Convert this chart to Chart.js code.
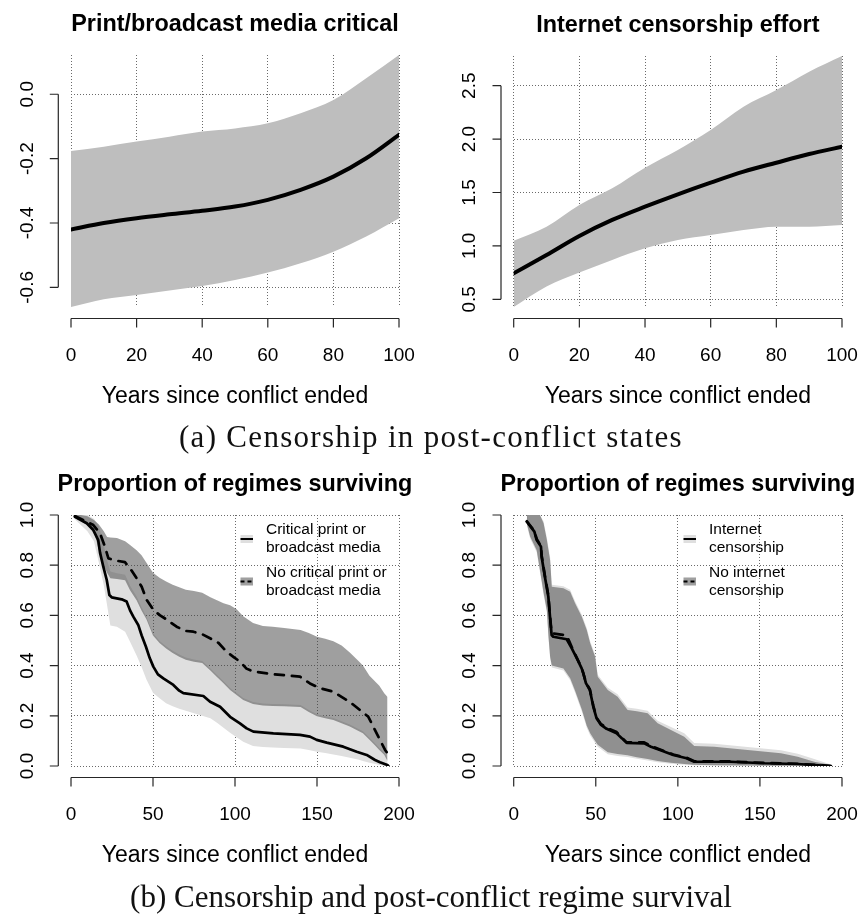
<!DOCTYPE html>
<html>
<head>
<meta charset="utf-8">
<script src="https://cdn.jsdelivr.net/npm/chart.js@4.4.1/dist/chart.umd.min.js"></script>
<style>
	body { margin: 0; background: #fff; }
	#page { position: relative; width: 862px; height: 916px; overflow: hidden; }
	canvas { position: absolute; }
	.caption { position: absolute; left: 0; width: 862px; text-align: center; font-family: "Liberation Serif", "DejaVu Serif", serif; font-size: 31px; line-height: 36px; color: #111; }
</style>
</head>
<body>
<div id="page">
	<canvas id="media" width="431" height="420" style="left:0;top:0"></canvas>
	<canvas id="internet" width="431" height="420" style="left:431px;top:0"></canvas>
	<div class="caption" style="top:419px;letter-spacing:1.3px">(a) Censorship in post-conflict states</div>
	<canvas id="survMedia" width="431" height="420" style="left:0;top:460px"></canvas>
	<canvas id="survNet" width="431" height="420" style="left:431px;top:460px"></canvas>
	<div class="caption" style="top:879px">(b) Censorship and post-conflict regime survival</div>
</div>
<script>
// VARIABLES ================================================

// (a) predicted effect over years since conflict ended
const effectYears = [0, 10, 20, 30, 40, 50, 60, 70, 80, 90, 100];
const mediaEffect = [-0.420, -0.400, -0.385, -0.373, -0.362, -0.349, -0.328, -0.297, -0.256, -0.199, -0.126];
const mediaUpper = [-0.176, -0.163, -0.147, -0.132, -0.116, -0.106, -0.090, -0.059, -0.018, 0.050, 0.122];
const mediaLower = [-0.661, -0.637, -0.624, -0.610, -0.596, -0.577, -0.554, -0.525, -0.489, -0.442, -0.385];
const internetEffect = [0.743, 0.915, 1.093, 1.243, 1.367, 1.483, 1.592, 1.695, 1.779, 1.860, 1.929];
const internetUpper = [1.049, 1.180, 1.383, 1.539, 1.732, 1.898, 2.085, 2.303, 2.459, 2.631, 2.778];
const internetLower = [0.428, 0.619, 0.750, 0.868, 0.977, 1.055, 1.102, 1.149, 1.180, 1.180, 1.196];

const effectXTicks = [0, 20, 40, 60, 80, 100];
const mediaYTicks = [-0.6, -0.4, -0.2, 0.0];
const internetYTicks = [0.5, 1.0, 1.5, 2.0, 2.5];

// (b) survival, critical print/broadcast media
const mediaBandYears = [2, 6, 10, 14, 17, 20, 22, 24, 28, 33, 36, 40, 43, 46, 50, 54, 58, 62, 66, 70, 75, 80, 85, 89, 93, 97, 101, 105, 111, 117, 123, 130, 140, 145, 150, 155, 160, 165, 170, 175, 178, 182, 185, 188, 191, 193];
const critUpper = [1.0, 1.0, 1.0, 0.985, 0.955, 0.88, 0.82, 0.775, 0.768, 0.762, 0.718, 0.675, 0.632, 0.595, 0.53, 0.498, 0.477, 0.459, 0.444, 0.432, 0.424, 0.418, 0.388, 0.363, 0.338, 0.311, 0.291, 0.271, 0.255, 0.249, 0.247, 0.246, 0.243, 0.223, 0.206, 0.198, 0.191, 0.178, 0.165, 0.148, 0.138, 0.113, 0.093, 0.072, 0.053, 0.03];
const critLower = [0.985, 0.96, 0.935, 0.895, 0.81, 0.72, 0.64, 0.56, 0.555, 0.535, 0.495, 0.44, 0.395, 0.345, 0.292, 0.27, 0.25, 0.238, 0.228, 0.22, 0.21, 0.2, 0.19, 0.172, 0.152, 0.132, 0.115, 0.097, 0.08, 0.076, 0.074, 0.072, 0.07, 0.064, 0.057, 0.052, 0.046, 0.04, 0.033, 0.026, 0.02, 0.013, 0.009, 0.004, 0.001, 0];
const noCritUpper = [1.0, 1.0, 0.995, 0.98, 0.962, 0.935, 0.912, 0.91, 0.908, 0.895, 0.88, 0.86, 0.84, 0.81, 0.77, 0.75, 0.735, 0.722, 0.712, 0.702, 0.697, 0.69, 0.672, 0.66, 0.648, 0.64, 0.625, 0.597, 0.57, 0.558, 0.555, 0.55, 0.542, 0.53, 0.515, 0.507, 0.497, 0.48, 0.452, 0.42, 0.40, 0.36, 0.34, 0.32, 0.29, 0.275];
const noCritLower = [0.99, 0.975, 0.96, 0.935, 0.86, 0.80, 0.77, 0.748, 0.745, 0.74, 0.70, 0.66, 0.62, 0.585, 0.52, 0.49, 0.468, 0.45, 0.435, 0.423, 0.415, 0.41, 0.38, 0.355, 0.33, 0.303, 0.283, 0.263, 0.247, 0.241, 0.239, 0.238, 0.235, 0.215, 0.198, 0.19, 0.183, 0.17, 0.157, 0.14, 0.13, 0.105, 0.085, 0.064, 0.045, 0.02];

const critYears = [2.4, 9.6, 13.6, 16.6, 17.7, 19.7, 21.8, 23.4, 24.8, 30.9, 33.9, 36, 38, 41, 43.1, 45.7, 48, 50.2, 53, 56.3, 62.4, 66, 68.5, 80.7, 84.8, 90.9, 97, 103, 107.1, 111.2, 123.4, 139.6, 145.7, 149.8, 155.9, 166, 174.2, 180.3, 185.4, 188.4, 192.9, 193.5];
const critSurv = [0.993, 0.967, 0.94, 0.90, 0.85, 0.794, 0.741, 0.681, 0.672, 0.664, 0.655, 0.62, 0.595, 0.562, 0.52, 0.475, 0.43, 0.396, 0.365, 0.349, 0.323, 0.30, 0.29, 0.279, 0.256, 0.236, 0.196, 0.17, 0.15, 0.137, 0.13, 0.124, 0.117, 0.104, 0.093, 0.077, 0.057, 0.044, 0.024, 0.015, 0.004, 0];
const noCritYears = [2.4, 13.6, 17.7, 20.7, 22.8, 27.9, 32.9, 36, 40, 43.1, 46.2, 50.2, 54.3, 58, 64.4, 70, 74.6, 80, 86.8, 90, 94.9, 99, 103, 107, 111.2, 123.4, 139.6, 145.7, 151.8, 160, 168, 172, 176.2, 181.3, 184.3, 188.4, 191.5, 192.5];
const noCritSurv = [0.996, 0.96, 0.927, 0.874, 0.827, 0.818, 0.812, 0.788, 0.748, 0.714, 0.661, 0.622, 0.60, 0.585, 0.555, 0.538, 0.535, 0.525, 0.502, 0.49, 0.455, 0.435, 0.416, 0.388, 0.376, 0.366, 0.356, 0.329, 0.31, 0.296, 0.263, 0.245, 0.223, 0.196, 0.157, 0.104, 0.064, 0.055];

// (b) survival, internet censorship
const netBandYears = [8, 10, 14, 16, 18.2, 20.2, 21.2, 22.2, 23.2, 30.3, 34.4, 37.4, 41.5, 44.5, 46.6, 49.6, 51.2, 57.3, 63.3, 69.4, 75, 81.6, 87.7, 95.8, 103.9, 110, 122.2, 142.5, 162.8, 173, 183.1, 193.2];
const censUpper = [1.0, 1.0, 1.0, 1.0, 0.975, 0.91, 0.87, 0.83, 0.722, 0.716, 0.702, 0.656, 0.603, 0.55, 0.497, 0.443, 0.364, 0.312, 0.286, 0.233, 0.228, 0.22, 0.18, 0.155, 0.13, 0.092, 0.089, 0.076, 0.063, 0.049, 0.028, 0.006];
const censLower = [0.958, 0.906, 0.852, 0.772, 0.682, 0.612, 0.507, 0.427, 0.392, 0.38, 0.342, 0.292, 0.217, 0.152, 0.122, 0.092, 0.077, 0.047, 0.04, 0.036, 0.029, 0.022, 0.015, 0.009, 0.005, 0.003, 0.002, 0.001, 0, 0, 0, 0];
const noCensUpper = [1.0, 1.0, 1.0, 1.0, 0.967, 0.90, 0.86, 0.82, 0.714, 0.708, 0.694, 0.648, 0.595, 0.542, 0.489, 0.435, 0.356, 0.303, 0.276, 0.223, 0.218, 0.21, 0.17, 0.143, 0.117, 0.08, 0.077, 0.064, 0.051, 0.037, 0.017, 0.004];
const noCensLower = [0.965, 0.914, 0.86, 0.78, 0.69, 0.62, 0.515, 0.435, 0.40, 0.388, 0.35, 0.30, 0.225, 0.16, 0.13, 0.10, 0.085, 0.055, 0.048, 0.043, 0.035, 0.028, 0.02, 0.013, 0.008, 0.005, 0.003, 0.002, 0.001, 0.001, 0, 0];

const censYears = [8, 12.6, 14, 16.6, 17, 19, 21.1, 22.1, 23.1, 24.1, 32.3, 35.3, 38.4, 41.4, 42.4, 44, 46.4, 48.5, 50.5, 53, 56.6, 62.7, 66, 68.8, 79.5, 83.6, 89.1, 97.2, 105.3, 110, 132.3, 152.6, 173, 193.2];
const censSurv = [0.973, 0.934, 0.90, 0.874, 0.834, 0.754, 0.675, 0.595, 0.522, 0.515, 0.505, 0.47, 0.43, 0.389, 0.369, 0.33, 0.303, 0.236, 0.19, 0.165, 0.148, 0.13, 0.11, 0.092, 0.09, 0.077, 0.064, 0.044, 0.031, 0.017, 0.017, 0.011, 0.008, 0];
const noCensSurv = [0.975, 0.936, 0.905, 0.876, 0.84, 0.758, 0.68, 0.60, 0.53, 0.528, 0.52, 0.475, 0.432, 0.39, 0.37, 0.332, 0.305, 0.24, 0.192, 0.168, 0.152, 0.135, 0.112, 0.094, 0.094, 0.08, 0.066, 0.046, 0.033, 0.019, 0.018, 0.012, 0.009, 0];

const survXTicks = [0, 50, 100, 150, 200];
const survYTicks = [0.0, 0.2, 0.4, 0.6, 0.8, 1.0];

const mediaLegend = [["Critical print or", "broadcast media"], ["No critical print or", "broadcast media"]];
const netLegend = [["Internet", "censorship"], ["No internet", "censorship"]];

const SANS = '"Liberation Sans", Arial, Helvetica, sans-serif';
const BAND = "#bebebe";
const LIGHT = "#dfdfdf";
const DARK = "rgba(70, 70, 70, 0.52)";

// FUNCTIONS ================================================

const pts = function (xs, ys) {
	return xs.map((x, i) => ({ x: x, y: ys[i] }));
};

// R style axes, titles and legend drawn from the chart scales
const rStyle = {
	id: "rStyle",
	afterDraw: function (chart, args, opts) {
		const ctx = chart.ctx;
		const area = chart.chartArea;
		const xs = chart.scales.x;
		const ys = chart.scales.y;
		const midX = (area.left + area.right) / 2;
		ctx.save();
		ctx.strokeStyle = "#262626";
		ctx.lineWidth = 1.2;
		ctx.fillStyle = "#000";

		// x axis
		const axY = area.bottom + 11.5;
		const xa = xs.getPixelForValue(opts.xTicks[0]);
		const xb = xs.getPixelForValue(opts.xTicks[opts.xTicks.length - 1]);
		ctx.beginPath();
		ctx.moveTo(xa, axY);
		ctx.lineTo(xb, axY);
		opts.xTicks.forEach((v) => {
			const px = xs.getPixelForValue(v);
			ctx.moveTo(px, axY);
			ctx.lineTo(px, axY + 9);
		});
		ctx.stroke();
		ctx.font = "19px " + SANS;
		ctx.textAlign = "center";
		ctx.textBaseline = "alphabetic";
		opts.xTicks.forEach((v) => {
			ctx.fillText(String(v), xs.getPixelForValue(v), axY + 42);
		});

		// y axis
		const axX = area.left - 12.7;
		const ya = ys.getPixelForValue(opts.yTicks[0]);
		const yb = ys.getPixelForValue(opts.yTicks[opts.yTicks.length - 1]);
		ctx.beginPath();
		ctx.moveTo(axX, ya);
		ctx.lineTo(axX, yb);
		opts.yTicks.forEach((v) => {
			const py = ys.getPixelForValue(v);
			ctx.moveTo(axX, py);
			ctx.lineTo(axX - 8.5, py);
		});
		ctx.stroke();
		opts.yTicks.forEach((v) => {
			ctx.save();
			ctx.translate(axX - 25.8, ys.getPixelForValue(v));
			ctx.rotate(-Math.PI / 2);
			ctx.fillText(v.toFixed(1), 0, 0);
			ctx.restore();
		});

		// titles
		ctx.font = "23px " + SANS;
		ctx.fillText(opts.xTitle, midX, area.bottom + 96);
		ctx.font = "bold 23.4px " + SANS;
		ctx.fillText(opts.title, midX, area.top - 24);

		// legend
		if (opts.legend) {
			ctx.font = "15.5px " + SANS;
			ctx.textAlign = "left";
			ctx.textBaseline = "middle";
			opts.legend.forEach((item, i) => {
				const cy = area.top + 24 + i * 42.5;
				const sx = area.right - 158.5;
				ctx.fillStyle = item.fill;
				ctx.fillRect(sx, cy - 4, 12.5, 8);
				ctx.strokeStyle = "#000";
				ctx.lineWidth = 2;
				ctx.setLineDash(item.dash);
				ctx.beginPath();
				ctx.moveTo(sx, cy);
				ctx.lineTo(sx + 12.5, cy);
				ctx.stroke();
				ctx.setLineDash([]);
				ctx.fillStyle = "#000";
				ctx.fillText(item.lines[0], area.right - 133, cy - 9.2);
				ctx.fillText(item.lines[1], area.right - 133, cy + 9.2);
			});
		}
		ctx.restore();
	},
};

const scaleOpts = function (min, max, ticks) {
	return {
		type: "linear",
		min: min,
		max: max,
		z: 1,
		grid: { color: "#6a6a6a", lineWidth: 1, drawTicks: false },
		border: { display: false, dash: [1, 2] },
		ticks: { display: false },
		afterBuildTicks: (scale) => {
			scale.ticks = ticks.map((v) => ({ value: v }));
		},
	};
};

const bandSets = function (xs, upper, lower, color, order) {
	return [
		{ data: pts(xs, upper), borderWidth: 0, pointRadius: 0, backgroundColor: color, fill: "+1", order: order },
		{ data: pts(xs, lower), borderWidth: 0, pointRadius: 0, fill: false, order: order },
	];
};

const lineSet = function (xs, ys, width, dash) {
	return { data: pts(xs, ys), borderColor: "#000", borderWidth: width, borderDash: dash, borderCapStyle: "round", borderJoinStyle: "round", pointRadius: 0, fill: false, order: 0 };
};

const makeChart = function (id, datasets, cfg) {
	return new Chart(document.getElementById(id), {
		type: "line",
		data: { datasets: datasets },
		options: {
			responsive: false,
			animation: false,
			devicePixelRatio: 1,
			layout: { padding: cfg.padding },
			elements: { line: { tension: cfg.smooth ? 0.4 : 0, cubicInterpolationMode: cfg.smooth ? "monotone" : "default" } },
			scales: { x: scaleOpts(cfg.xMin, cfg.xMax, cfg.xTicks), y: scaleOpts(cfg.yMin, cfg.yMax, cfg.yTicks) },
			plugins: {
				legend: { display: false },
				tooltip: { enabled: false },
				rStyle: { title: cfg.title, xTitle: "Years since conflict ended", xTicks: cfg.xTicks, yTicks: cfg.yTicks, legend: cfg.legend },
			},
		},
		plugins: [rStyle],
	});
};

// CHARTS ===================================================

makeChart("media", [...bandSets(effectYears, mediaUpper, mediaLower, BAND, 2), lineSet(effectYears, mediaEffect, 4, [])], {
	padding: { left: 71, right: 32, top: 55, bottom: 113 },
	smooth: true,
	xMin: 0, xMax: 100, yMin: -0.661, yMax: 0.122,
	xTicks: effectXTicks, yTicks: mediaYTicks,
	title: "Print/broadcast media critical",
});

makeChart("internet", [...bandSets(effectYears, internetUpper, internetLower, BAND, 2), lineSet(effectYears, internetEffect, 4, [])], {
	padding: { left: 82.7, right: 20, top: 56, bottom: 113 },
	smooth: true,
	xMin: 0, xMax: 100, yMin: 0.428, yMax: 2.778,
	xTicks: effectXTicks, yTicks: internetYTicks,
	title: "Internet censorship effort",
});

makeChart("survMedia", [
	...bandSets(mediaBandYears, critUpper, critLower, LIGHT, 3),
	...bandSets(mediaBandYears, noCritUpper, noCritLower, DARK, 2),
	lineSet(critYears, critSurv, 2.7, []),
	lineSet(noCritYears, noCritSurv, 2.7, [9, 8]),
], {
	padding: { left: 71, right: 32, top: 55, bottom: 114 },
	smooth: false,
	xMin: 0, xMax: 200, yMin: 0, yMax: 1,
	xTicks: survXTicks, yTicks: survYTicks,
	title: "Proportion of regimes surviving",
	legend: [
		{ lines: mediaLegend[0], fill: LIGHT, dash: [] },
		{ lines: mediaLegend[1], fill: DARK, dash: [4, 3] },
	],
});

makeChart("survNet", [
	...bandSets(netBandYears, censUpper, censLower, LIGHT, 3),
	...bandSets(netBandYears, noCensUpper, noCensLower, DARK, 2),
	lineSet(censYears, censSurv, 2.7, []),
	lineSet(censYears, noCensSurv, 2.7, [9, 8]),
], {
	padding: { left: 82.7, right: 20, top: 55, bottom: 114 },
	smooth: false,
	xMin: 0, xMax: 200, yMin: 0, yMax: 1,
	xTicks: survXTicks, yTicks: survYTicks,
	title: "Proportion of regimes surviving",
	legend: [
		{ lines: netLegend[0], fill: LIGHT, dash: [] },
		{ lines: netLegend[1], fill: DARK, dash: [4, 3] },
	],
});

// END ======================================================
</script>
</body>
</html>
